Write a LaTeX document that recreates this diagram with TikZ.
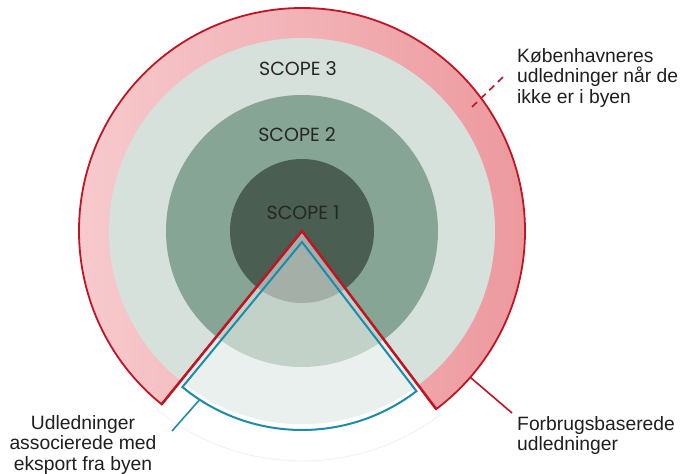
\documentclass[tikz,border=0pt]{standalone}
\usepackage{fontspec}
\setmainfont{Liberation Sans}
\newfontfamily\scopefont{Poppins}
\usetikzlibrary{calc}
\definecolor{ringL}{RGB}{247,203,206}
\definecolor{ringR}{RGB}{236,150,155}
\definecolor{sthree}{RGB}{214,225,220}
\definecolor{stwo}{RGB}{134,165,148}
\definecolor{sone}{RGB}{74,95,81}
\definecolor{redline}{RGB}{190,22,36}
\definecolor{tealline}{RGB}{28,140,170}
\definecolor{faint}{RGB}{241,241,241}
\begin{document}
\begin{tikzpicture}[x=1pt,y=1pt,
  scopelabel/.style={font=\scopefont\fontsize{19}{19}\selectfont, text=black!85, inner sep=0pt},
  txtlabel/.style={font=\fontsize{19.3}{20.5}\selectfont, text=black!88, inner sep=0pt},
  redstroke/.style={draw=redline, line width=1.8pt, line join=miter},
  redvee/.style={draw=redline, line width=2.5pt, line join=miter},
  tealstroke/.style={draw=tealline, line width=2pt, line join=miter},
  leader/.style={line width=1.6pt}]
\fill[white] (0,0) rectangle (684,-473);
\useasboundingbox (0,0) rectangle (684,-473);
\coordinate (C) at (302,-231);
\coordinate (T) at (302,-242);
\coordinate (L) at ($(C)+(231:223)$);
\coordinate (R) at ($(C)+(-53:223)$);
% faint outline of the export sector
\draw[faint, line width=0.8pt, fill=white] (C) -- ($(C)+(-129:230)$) arc[start angle=-129, end angle=-53, radius=230] -- cycle;
% consumption ring outside the wedge
\shade[left color=ringL, right color=ringR] (C) -- (R) arc[start angle=-53, end angle=231, radius=223] -- cycle;
% scope disks
\fill[sthree] (C) circle[radius=193];
\fill[stwo] (C) circle[radius=136];
\fill[sone] (C) circle[radius=72];
% faded wedge
\begin{scope}
\clip (C) circle[radius=193];
\fill[white, opacity=0.5] (C) -- ($(C)+(-129:240)$) arc[start angle=-129, end angle=-53, radius=240] -- cycle;
\end{scope}
% red outline
\draw[redstroke] (C) -- (L) arc[start angle=231, end angle=-53, radius=223] -- cycle;
\draw[redvee] (L) -- (C) -- (R);
% teal sector
\draw[tealstroke] (T) -- ($(T)+(-129.5:188)$) arc[start angle=-129.5, end angle=-52.5, radius=188] -- cycle;
% labels
\node[scopelabel] (s3) at (298,-69) {SCOPE 3};
\node[scopelabel] (s2) at (297,-135) {SCOPE 2};
\node[scopelabel] (s1) at (303,-213) {SCOPE 1};
\node[txtlabel, align=left, anchor=north west] (abroad) at (517,-48) {Københavneres\\udledninger når de\\ikke er i byen};
\node[txtlabel, align=left, anchor=north west] (consum) at (517,-416) {Forbrugsbaserede\\udledninger};
\node[txtlabel, align=center, anchor=north] (export) at (83,-415) {Udledninger\\associerede med\\eksport fra byen};
% leaders
\coordinate (tealA) at ($(T)+(-123:188)$);
\coordinate (tealB) at (172,-431);
\draw[tealline, leader] (tealA) -- (tealB);
\coordinate (redA) at ($(C)+(-41:223)$);
\coordinate (redB) at (512,-413);
\draw[redline, leader] (redA) -- (redB);
\coordinate (dashA) at (472,-107);
\coordinate (dashB) at (503,-77);
\draw[redline, leader, dash pattern=on 7pt off 5pt] (dashA) -- (dashB);
\end{tikzpicture}
\end{document}
